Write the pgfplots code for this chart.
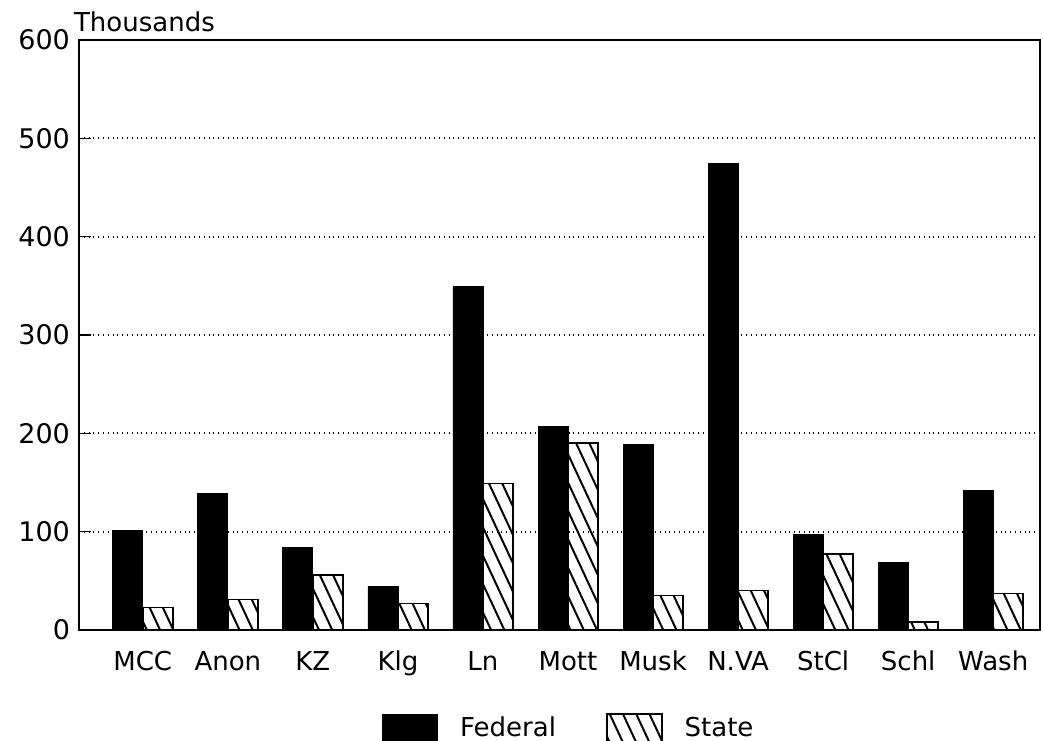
\documentclass[border=0pt]{standalone}
\usepackage{fontspec}
\setmainfont{DejaVu Sans}
\usepackage{pgfplots}
\pgfplotsset{compat=1.18}
\usetikzlibrary{patterns.meta,calc}
\pgfplotsset{mybox/.style={legend image code/.code={\draw[##1] (0pt,-7.5pt) rectangle (27.5pt,7.5pt);}}}
\begin{document}
\fontsize{13}{15}\selectfont
\begin{tikzpicture}
\begin{axis}[name=ax, scale only axis, width=480.5pt, height=295pt,
  xmin=-0.75, xmax=10.55, ymin=0, ymax=600,
  ytick={0,100,...,600}, ymajorgrids,
  grid style={dotted, line width=0.9pt, black},
  tick align=inside, ytick pos=left, major tick length=6pt,
  ytick style={line width=0.8pt, black},
  xtick={0,...,10},
  xticklabels={MCC,Anon,KZ,Klg,Ln,Mott,Musk,N.VA,StCl,Schl,Wash},
  xtick style={draw=none},
  xticklabel style={text height=9.5pt, text depth=2.5pt},
  yticklabel style={font=\fontsize{13.5}{15}\selectfont},
  ybar=0pt, bar width=15pt,
  axis line style={line width=1pt, black},
  /pgf/number format/assume math mode=true,
  tick label style={font=\fontsize{13}{15}\selectfont},
  legend style={at={(0.515,-0.12)}, anchor=north, draw=none, fill=none,
    legend columns=2, font=\fontsize{13}{15}\selectfont,
    /tikz/every odd column/.style={column sep=5pt},
    /tikz/every even column/.style={column sep=19pt},
    nodes={inner sep=6pt}},
]
\addplot[fill=black, draw=black, mybox]
  coordinates {(0,101) (1,139) (2,84) (3,44) (4,349) (5,207) (6,189) (7,474) (8,97) (9,69) (10,142)};
\addplot[draw=black, line width=0.8pt, pattern={Lines[angle=-65, distance=6pt, line width=1pt]}, pattern color=black, mybox]
  coordinates {(0,23) (1,31) (2,56) (3,27) (4,149) (5,190) (6,35) (7,40) (8,77) (9,8) (10,37)};
\legend{Federal, State}
\end{axis}
\node[anchor=base west, font=\fontsize{13}{15}\selectfont] at ($(ax.north west)+(-7pt,4pt)$) {Thousands};
\pgfresetboundingbox
\path[use as bounding box] ($(ax.south west)+(-39.5pt,-55.5pt)$) rectangle ($(ax.north east)+(1.5pt,20pt)$);
\end{tikzpicture}
\end{document}
